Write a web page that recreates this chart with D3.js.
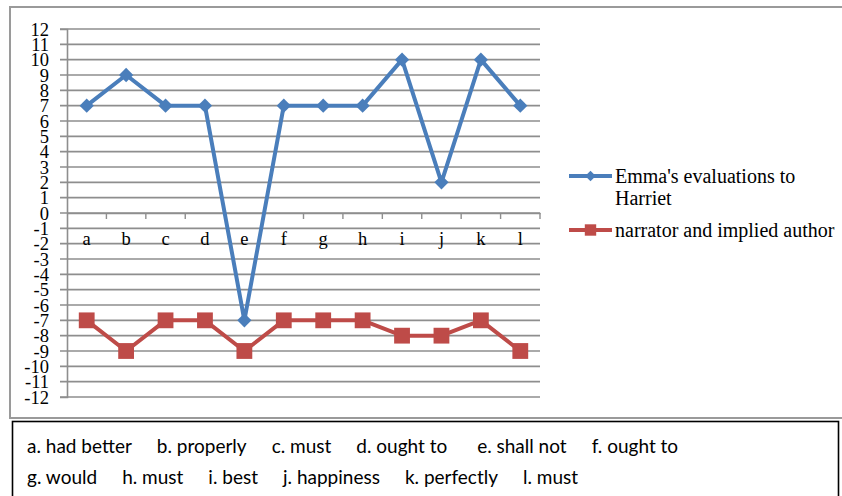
<!DOCTYPE html>
<html>
<head>
<meta charset="utf-8">
<script src="https://cdn.jsdelivr.net/npm/d3@7"></script>
<style>
  body { margin: 0; background: #fff; }
  svg { display: block; }
</style>
</head>
<body>
<svg id="chart"></svg>
<script>
// DATA
const categories = ["a", "b", "c", "d", "e", "f", "g", "h", "i", "j", "k", "l"];
const emmaValues = [7, 9, 7, 7, -7, 7, 7, 7, 10, 2, 10, 7];
const narratorValues = [-7, -9, -7, -7, -9, -7, -7, -7, -8, -8, -7, -9];
const seriesNames = ["Emma's evaluations to Harriet", "narrator and implied author"];
const yTicks = d3.range(-12, 13);
const keyLine1 = ["a. had better", "b. properly", "c. must", "d. ought to ", "e. shall not", "f. ought to"];
const keyLine2 = ["g. would", "h. must", "i. best", "j. happiness", "k. perfectly", "l. must"];

// DIMENSIONS
const dims = { width: 842, height: 496 };
const plot = { left: 67, right: 540, top: 29, bottom: 397 };
const BLUE = "#4a7ebb";
const RED = "#be4b48";
const SERIF = "'Liberation Serif', 'DejaVu Serif', serif";

const svg = d3.select("#chart")
  .attr("width", dims.width)
  .attr("height", dims.height);

// chart outer border
svg.append("rect")
  .attr("x", 10).attr("y", 7)
  .attr("width", 840).attr("height", 411)
  .attr("fill", "none")
  .attr("stroke", "#9a9a9a")
  .attr("stroke-width", 2);

// SCALES
const x = d3.scaleBand().domain(categories).range([plot.left, plot.right]);
const y = d3.scaleLinear().domain([-12, 12]).range([plot.bottom, plot.top]);

// gridlines
svg.append("g")
  .selectAll("line")
  .data(yTicks)
  .join("line")
  .attr("x1", plot.left - 7)
  .attr("x2", plot.right)
  .attr("y1", d => y(d))
  .attr("y2", d => y(d))
  .attr("stroke", "#8e8e8e")
  .attr("stroke-width", 1.6);

// y axis
const yAxis = svg.append("g")
  .attr("transform", `translate(${plot.left},0)`)
  .call(d3.axisLeft(y).tickValues(yTicks).tickSize(7).tickFormat(d => String(d)));
yAxis.select(".domain").attr("stroke", "#8e8e8e").attr("stroke-width", 1.6);
yAxis.selectAll(".tick line").remove();
yAxis.selectAll(".tick text")
  .attr("x", -18)
  .attr("dy", "0.34em")
  .attr("fill", "#000")
  .style("font-family", SERIF)
  .style("font-size", "18.5px");

// x axis at 0
const xAxis = svg.append("g")
  .attr("transform", `translate(0,${y(0)})`)
  .call(d3.axisBottom(x).tickSize(0).tickFormat(""));
xAxis.select(".domain").attr("stroke", "#8e8e8e").attr("stroke-width", 1.6);
xAxis.selectAll(".tick").remove();

// tick marks at category boundaries (hang below the 0 line)
svg.append("g")
  .selectAll("line")
  .data(categories)
  .join("line")
  .attr("x1", d => x(d) + x.bandwidth())
  .attr("x2", d => x(d) + x.bandwidth())
  .attr("y1", y(0))
  .attr("y2", y(0) + 6)
  .attr("stroke", "#8e8e8e")
  .attr("stroke-width", 1.4);

// category labels
svg.append("g")
  .selectAll("text")
  .data(categories)
  .join("text")
  .attr("x", d => x(d) + x.bandwidth() / 2)
  .attr("y", y(0) + 32)
  .attr("text-anchor", "middle")
  .style("font-family", SERIF)
  .style("font-size", "18.5px")
  .text(d => d);

// LINES
const line = d3.line()
  .x((d, i) => x(categories[i]) + x.bandwidth() / 2)
  .y(d => y(d));

const series = [
  { values: emmaValues, color: BLUE, symbol: d3.symbolDiamond2, size: 130 },
  { values: narratorValues, color: RED, symbol: d3.symbolSquare, size: 250 }
];

series.forEach(s => {
  svg.append("path")
    .datum(s.values)
    .attr("d", line)
    .attr("fill", "none")
    .attr("stroke", s.color)
    .attr("stroke-width", 4)
    .attr("stroke-linejoin", "round");

  svg.append("g")
    .selectAll("path")
    .data(s.values)
    .join("path")
    .attr("transform", (d, i) => `translate(${x(categories[i]) + x.bandwidth() / 2},${y(d)})`)
    .attr("d", d3.symbol().type(s.symbol).size(s.size))
    .attr("fill", s.color);
});

// LEGEND
const legend = svg.append("g");
const legendY = [176, 230];
series.forEach((s, i) => {
  const g = legend.append("g").attr("transform", `translate(569,${legendY[i]})`);
  g.append("line")
    .attr("x1", 0).attr("x2", 43)
    .attr("stroke", s.color).attr("stroke-width", 4);
  g.append("path")
    .attr("transform", "translate(21.5,0)")
    .attr("d", d3.symbol().type(s.symbol).size(i === 0 ? 70 : 130))
    .attr("fill", s.color);
});
const legendText = legend.append("g")
  .style("font-family", SERIF)
  .style("font-size", "20px");
legendText.append("text").attr("x", 615).attr("y", 183).text("Emma's evaluations to");
legendText.append("text").attr("x", 615).attr("y", 205).text("Harriet");
legendText.append("text").attr("x", 615).attr("y", 237).text(seriesNames[1]);

// KEY BOX
svg.append("rect")
  .attr("x", 12.5).attr("y", 421.5)
  .attr("width", 826).attr("height", 80)
  .attr("fill", "none")
  .attr("stroke", "#000")
  .attr("stroke-width", 1.6);

const KEY_GAP = 25;
[[keyLine1, 453], [keyLine2, 484]].forEach(([items, baseY]) => {
  let cx = 27;
  items.forEach(t => {
    const txt = svg.append("text")
      .attr("x", cx)
      .attr("y", baseY)
      .attr("xml:space", "preserve")
      .style("white-space", "pre")
      .style("font-family", "Lato, 'Open Sans', sans-serif")
      .style("font-size", "19px")
      .text(t);
    cx += txt.node().getComputedTextLength() + KEY_GAP;
  });
});
</script>
</body>
</html>
